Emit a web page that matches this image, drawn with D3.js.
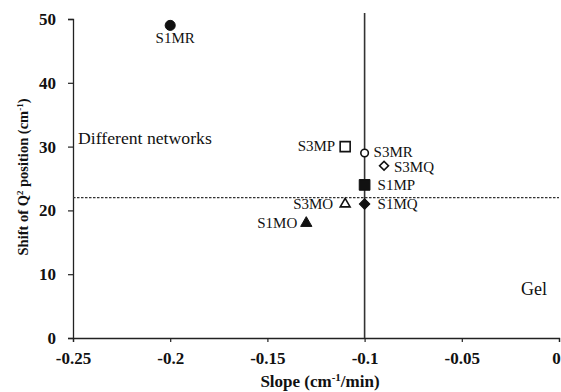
<!DOCTYPE html>
<html><head><meta charset="utf-8">
<script src="https://cdn.jsdelivr.net/npm/d3@7"></script>
<style>
body{margin:0;background:#fff;}
svg text{font-family:"Liberation Serif","Times New Roman",serif;fill:#111;}
</style></head>
<body><svg id="c" width="561" height="392"></svg>
<script>
const names = ["S1MR","S3MP","S3MR","S3MQ","S1MP","S3MO","S1MQ","S1MO"];
const slope = [-0.2,-0.11,-0.1,-0.09,-0.1,-0.11,-0.1,-0.13];
const shift = [49,30,29,27,24,21,21,18];
const xTicks = [-0.25,-0.2,-0.15,-0.1,-0.05,0];
const xTickLabels = ["-0.25","-0.2","-0.15","-0.1","-0.05","0"];
const yTicks = [0,10,20,30,40,50];
const vLine = -0.1, hLine = 22;

const svg = d3.select("#c");
const x = d3.scaleLinear().domain([-0.25,0]).range([73,559]);
const y = d3.scaleLinear().domain([0,50]).range([338,19]);

const xa = svg.append("g").attr("transform","translate(0,338)")
  .call(d3.axisBottom(x).tickValues(xTicks).tickFormat((d,i)=>xTickLabels[i]).tickSizeOuter(0).tickSize(4).tickPadding(10));
const ya = svg.append("g").attr("transform","translate(73,0)")
  .call(d3.axisLeft(y).tickValues(yTicks).tickSizeOuter(0).tickSize(5).tickPadding(12));
[xa,ya].forEach(g=>{
  g.select(".domain").attr("stroke","#222").attr("stroke-width",1.3);
  g.selectAll(".tick line").attr("stroke","#222").attr("stroke-width",1.2);
  g.selectAll(".tick text").attr("font-family","Liberation Serif").attr("font-weight","bold").attr("font-size",17).attr("fill","#222");
});
// keep the last x tick label inside the frame (it sits on the right edge)
xa.selectAll(".tick text").filter((d)=>d===0).attr("dx",-3);

// reference lines
svg.append("line").attr("x1",x(-0.25)).attr("x2",x(0)).attr("y1",y(hLine)).attr("y2",y(hLine))
  .attr("stroke","#333").attr("stroke-width",1.2).attr("stroke-dasharray","2.5,1.5");
svg.append("line").attr("x1",x(vLine)).attr("x2",x(vLine)).attr("y1",13).attr("y2",338)
  .attr("stroke","#333").attr("stroke-width",1.6);

// [symbol, size, filled, rotation]
const sym = {
  S1MR:[d3.symbolCircle,80,true,0],
  S3MP:[d3.symbolSquare,100,false,0],
  S3MR:[d3.symbolCircle,45,false,0],
  S3MQ:[d3.symbolSquare,40,false,45],
  S1MP:[d3.symbolSquare,115,true,0],
  S3MO:[d3.symbolTriangle,42,false,0],
  S1MO:[d3.symbolTriangle,55,true,0],
  S1MQ:[d3.symbolSquare,55,true,45]
};
const lab = {
  S1MR:[5,18,"middle"], S3MP:[-10,4,"end"], S3MR:[9,4,"start"], S3MQ:[10,6,"start"],
  S1MP:[13,5,"start"], S3MO:[-12,5,"end"], S1MQ:[13,5,"start"], S1MO:[-9,5,"end"]
};
names.forEach((n,i)=>{
  const [s,sz,fill,rot] = sym[n];
  const cx = x(slope[i]), cy = y(shift[i]);
  svg.append("path").attr("d",d3.symbol(s,sz)())
    .attr("transform",`translate(${cx},${cy}) rotate(${rot})`)
    .attr("fill",fill?"#111":"#fff").attr("stroke","#111").attr("stroke-width",fill?1:1.6);
  const [dx,dy,a] = lab[n];
  svg.append("text").attr("x",cx+dx).attr("y",cy+dy).attr("text-anchor",a)
    .attr("font-size",15).text(n);
});

svg.append("text").attr("x",78).attr("y",144).attr("font-size",17.7).text("Different networks");
svg.append("text").attr("x",547).attr("y",295).attr("text-anchor","end").attr("font-size",18).text("Gel");

// axis titles
const xt = svg.append("text").attr("x",320).attr("y",387).attr("text-anchor","middle")
  .attr("font-size",17).attr("font-weight","bold");
xt.append("tspan").text("Slope (cm");
xt.append("tspan").attr("dy",-6).attr("font-size",11).text("-1");
xt.append("tspan").attr("dy",6).text("/min)");

const yt = svg.append("text").attr("transform","translate(28,177) rotate(-90)").attr("text-anchor","middle")
  .attr("font-size",14.5).attr("font-weight","bold");
yt.append("tspan").text("Shift of Q");
yt.append("tspan").attr("dy",-5).attr("font-size",9).text("2");
yt.append("tspan").attr("dy",5).text(" position (cm");
yt.append("tspan").attr("dy",-5).attr("font-size",9).text("-1");
yt.append("tspan").attr("dy",5).text(")");
</script></body></html>
